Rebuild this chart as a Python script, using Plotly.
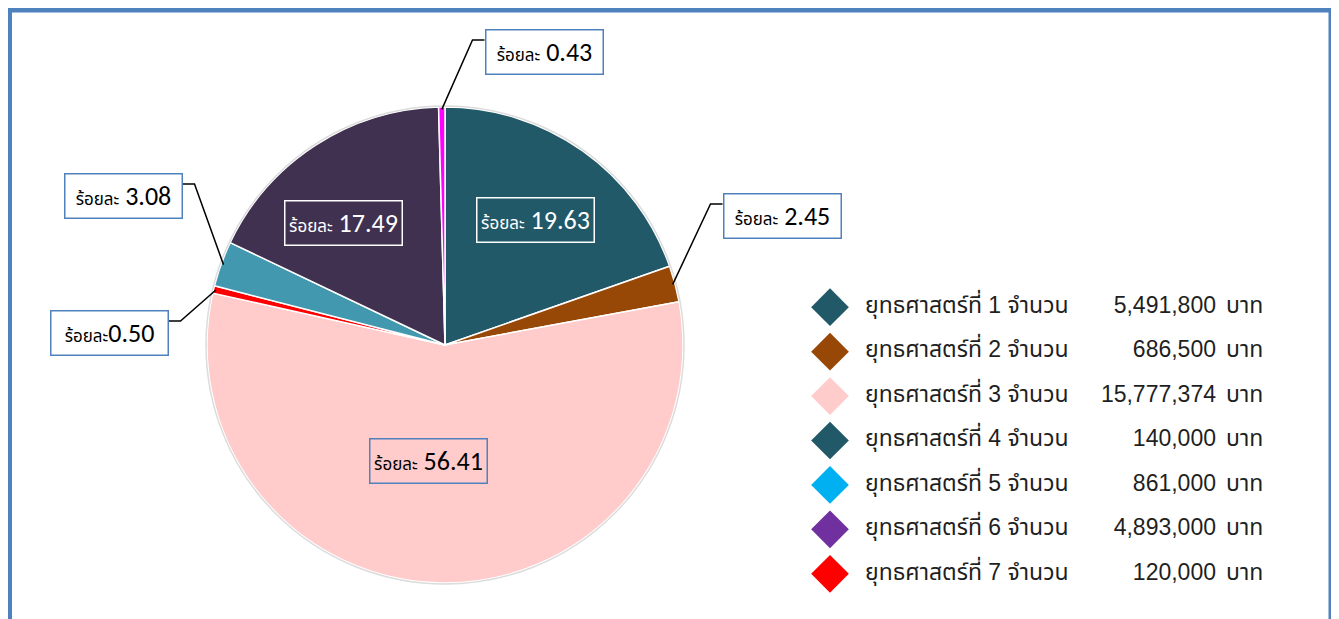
import math
import plotly.graph_objects as go

W, H = 1339, 619
OFF = 8  # ระยะขอบของหน้า html

# ข้อมูล
strategies = [f"ยุทธศาสตร์ที่ {i}" for i in range(1, 8)]
amounts = [5491800, 686500, 15777374, 140000, 861000, 4893000, 120000]
slice_colors = ["#215968", "#974706", "#FFCBCB", "#FF0000", "#4298AF", "#403151", "#FF00FF"]
legend_colors = ["#215968", "#974706", "#FFCCCC", "#215968", "#00B0F0", "#7030A0", "#FF0000"]

total = sum(amounts)
percents = [f"{v / total * 100:.2f}" for v in amounts]

# เรขาคณิตของวงกลม (พิกเซลบนหน้า)
CX, CY, R = 445, 345, 238
BLUE = "#4F81BD"
THAI = "Tahoma, 'Noto Sans Thai', 'Noto Sans', sans-serif"

# ตำแหน่งกล่องป้ายกำกับ (จุดกึ่งกลาง, พิกเซล) และรูปแบบ
label_boxes = {
    0: dict(cx=535, cy=220, kind="in_white"),
    1: dict(cx=782, cy=216, kind="out", side="left"),
    2: dict(cx=428, cy=461, kind="in_blue"),
    3: dict(cx=109, cy=333, kind="out", side="right", gap=""),
    4: dict(cx=123, cy=196, kind="out", side="right"),
    5: dict(cx=343, cy=223, kind="in_white"),
    6: dict(cx=544, cy=52, kind="out", side="left"),
}
BOX_W, BOX_H = 119, 46


def px(x):
    return (x - OFF) / W


def py(y):
    return 1 - (y - OFF) / H


def edge_point(i, k=0.99):
    cum = sum(amounts[:i]) + amounts[i] / 2
    th = 2 * math.pi * cum / total
    return CX + R * k * math.sin(th), CY - R * k * math.cos(th)


fig = go.Figure()

fig.add_trace(
    go.Pie(
        values=amounts,
        labels=strategies,
        sort=False,
        direction="clockwise",
        rotation=0,
        textinfo="none",
        marker=dict(colors=slice_colors, line=dict(color="white", width=1.5)),
        domain=dict(x=[px(CX - R), px(CX + R)], y=[py(CY + R), py(CY - R)]),
        showlegend=False,
        hoverinfo="label+value+percent",
    )
)

annotations = []
shapes = []

# เส้นขอบจาง ๆ รอบวงกลม
shapes.append(
    dict(
        type="circle", xref="paper", yref="paper",
        x0=px(CX - R - 1), x1=px(CX + R + 1), y0=py(CY + R + 1), y1=py(CY - R - 1),
        line=dict(color="#DCDCDC", width=1.5),
    )
)

for i, box in label_boxes.items():
    gap = box.get("gap", " ")
    txt = (
        f'<span style="font-size:17px">ร้อยละ</span>{gap}'
        f'<span style="font-size:26px">{percents[i]}</span>'
    )
    if box["kind"] == "in_white":
        border, fcol, bg = "white", "white", "rgba(0,0,0,0)"
    elif box["kind"] == "in_blue":
        border, fcol, bg = BLUE, "black", "rgba(0,0,0,0)"
    else:
        border, fcol, bg = BLUE, "black", "white"
    annotations.append(
        dict(
            x=px(box["cx"]), y=py(box["cy"]), xref="paper", yref="paper",
            text=txt, showarrow=False, xanchor="center", yanchor="middle",
            width=BOX_W - 6, height=BOX_H - 6, borderpad=1.5, borderwidth=1.5,
            bordercolor=border, bgcolor=bg,
            font=dict(family="Calibri, 'Open Sans', " + THAI, size=26, color=fcol),
        )
    )
    if box["kind"] == "out":
        top = box["cy"] - BOX_H / 2
        ly = top + 11
        if box["side"] == "left":
            bx = box["cx"] - BOX_W / 2
            sx = bx - 12
        else:
            bx = box["cx"] + BOX_W / 2
            sx = bx + 12
        ex, ey = edge_point(i)
        shapes.append(
            dict(
                type="path", xref="paper", yref="paper",
                path=f"M {px(bx)},{py(ly)} L {px(sx)},{py(ly)} L {px(ex)},{py(ey)}",
                line=dict(color="black", width=1.5),
            )
        )

# กรอบสีน้ำเงิน
shapes.append(
    dict(
        type="rect", xref="paper", yref="paper",
        x0=px(9.5), x1=px(1331), y0=py(10), y1=py(660),
        line=dict(color=BLUE, width=5), layer="above",
    )
)

# คำอธิบายสัญลักษณ์
rows = list(range(len(strategies)))
MARK_X, LABEL_X, NUM_X, UNIT_X = 830, 865, 1216, 1226
fig.add_trace(
    go.Scatter(
        x=[MARK_X - OFF] * len(rows), y=rows, mode="markers",
        marker=dict(symbol="diamond", size=29, color=legend_colors, line=dict(width=0)),
        showlegend=False, hoverinfo="skip",
    )
)
legend_font = dict(family="'Liberation Sans', " + THAI, size=23, color="#1F1F1F")
fig.add_trace(
    go.Scatter(
        x=[LABEL_X - OFF] * len(rows), y=rows, mode="text",
        text=[f"{s} จำนวน" for s in strategies], textposition="middle right",
        textfont=legend_font, showlegend=False, hoverinfo="skip",
    )
)
fig.add_trace(
    go.Scatter(
        x=[NUM_X - OFF] * len(rows), y=rows, mode="text",
        text=[f"{v:,}" for v in amounts], textposition="middle left",
        textfont=legend_font, showlegend=False, hoverinfo="skip",
    )
)
fig.add_trace(
    go.Scatter(
        x=[UNIT_X - OFF] * len(rows), y=rows, mode="text",
        text=["บาท"] * len(rows), textposition="middle right",
        textfont=legend_font, showlegend=False, hoverinfo="skip",
    )
)

fig.update_layout(
    width=W, height=H,
    margin=dict(l=0, r=0, t=0, b=0),
    paper_bgcolor="white", plot_bgcolor="rgba(0,0,0,0)",
    xaxis=dict(domain=[0, 1], range=[0, W], visible=False, fixedrange=True),
    yaxis=dict(domain=[py(596), py(285)], range=[6.5, -0.5], visible=False, fixedrange=True),
    annotations=annotations,
    shapes=shapes,
)

fig.write_html("out.html")
